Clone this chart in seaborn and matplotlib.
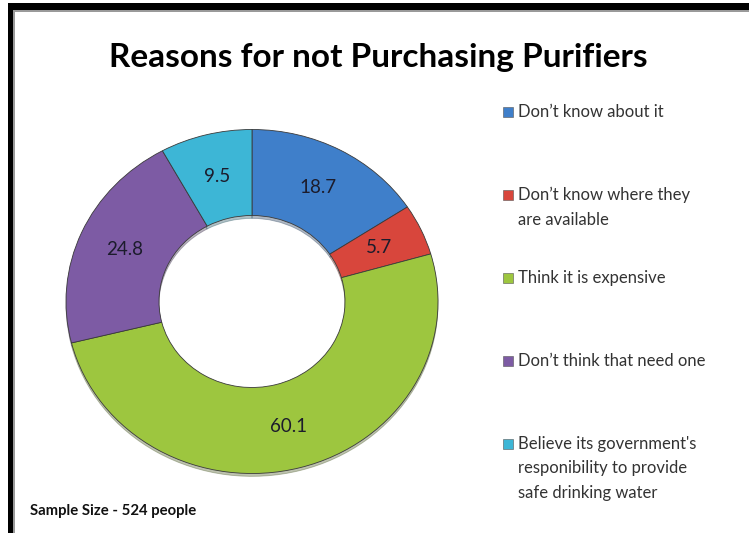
import matplotlib
matplotlib.use("Agg")
import matplotlib.pyplot as plt
from matplotlib.patches import Rectangle
import seaborn as sns

# Survey responses (multiple answers allowed, so values do not sum to 100)
reasons = [
    "Don\u2019t know about it",
    "Don\u2019t know where they\nare available",
    "Think it is expensive",
    "Don\u2019t think that need one",
    "Believe its government's\nresponibility to provide\nsafe drinking water",
]
shares = [18.7, 5.7, 60.1, 24.8, 9.5]
colors = ["#3f7fca", "#d8463c", "#9dc63f", "#7d5ba4", "#3db6d6"]

title = "Reasons for not Purchasing Purifiers"
footnote = "Sample Size - 524 people"

sns.set_theme(style="white")
plt.rcParams["font.family"] = ["Lato", "DejaVu Sans"]

W, H = 749, 533
fig = plt.figure(figsize=(W / 100, H / 100), dpi=100)
fig.patch.set_facecolor("white")

# Donut axes: slightly wider than tall, as in the original slide
cx, cy, rx, ry = 252, 301.5, 186, 172
ax = fig.add_axes([(cx - rx) / W, (H - cy - ry) / H, 2 * rx / W, 2 * ry / H])
total = sum(shares)
wedges, _, autotexts = ax.pie(
    shares,
    colors=colors,
    startangle=90,
    counterclock=False,
    radius=1.0,
    autopct=lambda p: f"{p * total / 100:.1f}",
    pctdistance=0.75,
    shadow={"ox": 0.0, "oy": -0.012, "shade": 0.6, "alpha": 0.35},
    wedgeprops=dict(width=0.5, edgecolor="#3a3a3a", linewidth=0.6),
    textprops=dict(fontsize=13.5, color="#1c1c2c"),
)
ax.set_aspect("auto")
ax.set_xlim(-1, 1)
ax.set_ylim(-1, 1)
ax.axis("off")

# Title
fig.text(378 / W, 1 - 57 / H, title, ha="center", va="center",
         fontsize=24, fontweight="bold", color="black")

# Legend: one slot per reason, square swatch beside the first line
first_y, slot = 112, 83.0
for i, (lab, col) in enumerate(zip(reasons, colors)):
    y = first_y + i * slot
    fig.add_artist(Rectangle((503 / W, 1 - (y + 5) / H), 10 / W, 10 / H,
                             transform=fig.transFigure, facecolor=col,
                             edgecolor="#555555", linewidth=0.4))
    fig.text(518 / W, 1 - (y - 8) / H, lab, ha="left", va="top",
             fontsize=12, color="#333333", linespacing=1.65)

# Footnote
fig.text(30 / W, 1 - 511 / H, footnote, ha="left", va="center",
         fontsize=10.7, fontweight="bold", color="#111111")

# Slide frame: heavy black rule along the top and left edges
fig.add_artist(Rectangle((8 / W, 1 - 10 / H), 1, 7 / H, transform=fig.transFigure,
                         facecolor="black", edgecolor="none"))
fig.add_artist(Rectangle((8 / W, 0), 5 / W, 1 - 3 / H, transform=fig.transFigure,
                         facecolor="black", edgecolor="none"))
fig.add_artist(Rectangle((13 / W, 0), 1.5 / W, 1 - 10 / H, transform=fig.transFigure,
                         facecolor="#9a9a9a", edgecolor="none"))
fig.add_artist(Rectangle((13 / W, 1 - 11.5 / H), 1, 1.5 / H, transform=fig.transFigure,
                         facecolor="#9a9a9a", edgecolor="none"))

fig.savefig("out.png", dpi=100, facecolor="white")
